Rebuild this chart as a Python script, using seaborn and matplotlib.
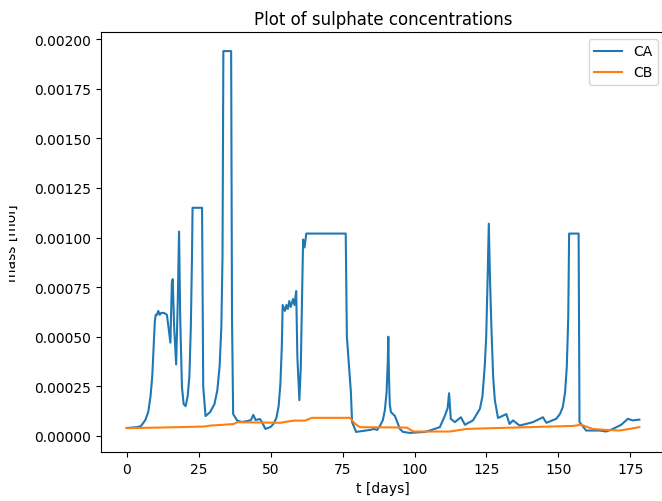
import numpy as np
import pandas as pd
import matplotlib
matplotlib.use("Agg")
import matplotlib.pyplot as plt
import seaborn as sns
from matplotlib.transforms import Bbox, TransformedBbox

# ---- data ----
t_ca = [0, 2, 4, 5, 6.5, 7.5, 8.3, 8.9, 9.4, 9.8, 10.1, 10.5, 11, 11.5, 12, 13, 14, 14.5,
        15.2, 15.7, 16.0, 16.5, 17.2, 17.8, 18.2, 18.6, 19.2, 19.8, 20.5, 21.2, 21.8,
        22.3, 22.7, 22.9, 26.2, 26.6, 27.4, 29, 30.5, 31.5, 32.3, 32.9, 33.3, 33.6, 36.3,
        36.6, 37.0, 38.4, 40, 42, 43.2, 44, 44.8, 46.3, 47, 48.2, 50, 51, 52, 52.8, 53.4,
        53.9, 54.2, 55, 55.5, 56, 56.5, 57, 57.8, 58.3, 58.9, 59.3, 60, 60.5, 61.3, 61.8,
        62.4, 76.1, 76.5, 77.9, 78.3, 79.7, 82, 84.5, 86, 87, 88, 89, 89.7, 90.3, 90.7,
        90.9, 91.1, 91.4, 91.8, 93.2, 94.9, 96, 98.4, 103.6, 105.3, 108.8, 110.5, 111.5,
        112, 112.6, 114, 116.1, 117.5, 120.3, 122.7, 123.6, 124.4, 124.9, 125.4, 125.8,
        126.2, 126.7, 127.3, 127.9, 129, 131.9, 133, 134.2, 136.5, 141.1, 144.6, 145.8,
        149.2, 150.5, 151.5, 152.3, 152.9, 153.4, 153.7, 157.0, 157.3, 159.6, 164.2,
        166.6, 168.9, 171.8, 174.1, 175.8, 178.1]
ca = [0.00004, 0.000042, 0.000045, 0.00005, 0.00008, 0.00012, 0.0002, 0.0003, 0.00045,
      0.00058, 0.00061, 0.00061, 0.00063, 0.00061, 0.00062, 0.00062, 0.00061, 0.00055,
      0.00047, 0.00077, 0.00079, 0.00055, 0.00036, 0.0007, 0.00103, 0.0006, 0.00025,
      0.00016, 0.00015, 0.0002, 0.0003, 0.00055, 0.0009, 0.00115, 0.00115, 0.00025,
      0.0001, 0.00012, 0.00016, 0.00023, 0.00035, 0.00055, 0.0009, 0.00194, 0.00194,
      0.0006, 0.00011, 0.000077, 0.00007, 0.000075, 0.00008, 0.000106, 0.00008, 0.000085,
      0.00007, 0.000035, 0.000045, 0.00006, 0.00009, 0.00015, 0.00026, 0.00045, 0.00066,
      0.00063, 0.00066, 0.00064, 0.00068, 0.00065, 0.00069, 0.00066, 0.00073, 0.0004,
      0.00018, 0.00035, 0.00099, 0.00095, 0.00102, 0.00102, 0.0005, 0.00022, 0.00007,
      0.00002, 0.000025, 0.00003, 0.000035, 0.00003, 0.00005, 0.00008, 0.00013, 0.00022,
      0.00037, 0.0005, 0.00032, 0.00016, 0.00012, 0.0001, 0.000035, 0.00002, 0.000015,
      0.00002, 0.000027, 0.000044, 0.0001, 0.00014, 0.000215, 0.000086, 0.000069,
      0.000094, 0.000056, 0.000078, 0.000136, 0.0002, 0.000355, 0.0005, 0.0008, 0.00107,
      0.0008, 0.00055, 0.0003, 0.00018, 0.00009, 0.00011, 0.00006, 0.000078, 0.000052,
      0.000069, 0.000094, 0.000066, 0.000086, 0.00011, 0.000145, 0.00022, 0.00035,
      0.0006, 0.00102, 0.00102, 0.00007, 0.000027, 0.000027, 0.000022, 0.000035,
      0.000056, 0.000086, 0.000078, 0.000082]

t_cb = [0, 11.8, 26.8, 29.1, 33.7, 37.2, 38.4, 53.4, 55, 58, 62, 64.3, 77.6, 79.4, 81.1,
        97.3, 99.6, 112.3, 118.1, 129.6, 146.9, 155, 157.9, 161.9, 166.6, 171.2, 174.6,
        178.1]
cb = [0.000039, 0.000042, 0.000047, 0.000052, 0.000056, 0.00006, 0.000069, 0.000066,
      0.00007, 0.000077, 0.000077, 0.000091, 0.000091, 0.00006, 0.000044, 0.000042,
      0.000022, 0.000022, 0.000035, 0.00004, 0.000047, 0.00005, 0.000056, 0.000035,
      0.00003, 0.000027, 0.000035, 0.000044]

series_names = ["CA", "CB"]
title = "Plot of sulphate concentrations"
xlabel = "t [days]"
ylabel = "mass [mol]"

# ---- figure ----
W, H = 662, 502
fig = plt.figure(figsize=(W / 100, H / 100), dpi=100)
ax = fig.add_axes([101 / W, 49 / H, 564 / W, 420 / H])

palette = sns.color_palette("tab10")
sns.lineplot(x=t_ca, y=ca, ax=ax, label=series_names[0], color=palette[0],
             estimator=None, sort=False, linewidth=1.5)
sns.lineplot(x=t_cb, y=cb, ax=ax, label=series_names[1], color=palette[1],
             estimator=None, sort=False, linewidth=1.5)

ax.set_xticks([0, 25, 50, 75, 100, 125, 150, 175])
ax.set_yticks([0.0, 0.00025, 0.0005, 0.00075, 0.001, 0.00125, 0.0015, 0.00175, 0.002])
ax.set_title(title, fontsize=12)
ax.set_xlabel(xlabel, fontsize=10)
ax.set_ylabel(ylabel, fontsize=10)
ax.yaxis.set_label_coords((19 - 101) / 564, 0.5)
ax.legend(loc="upper right")

lbl = ax.yaxis.label
lbl.set_clip_box(TransformedBbox(Bbox.from_extents(9 / W, 0, 1, 1), fig.transFigure))
lbl.set_clip_on(True)

fig.savefig("out.png", dpi=100)
